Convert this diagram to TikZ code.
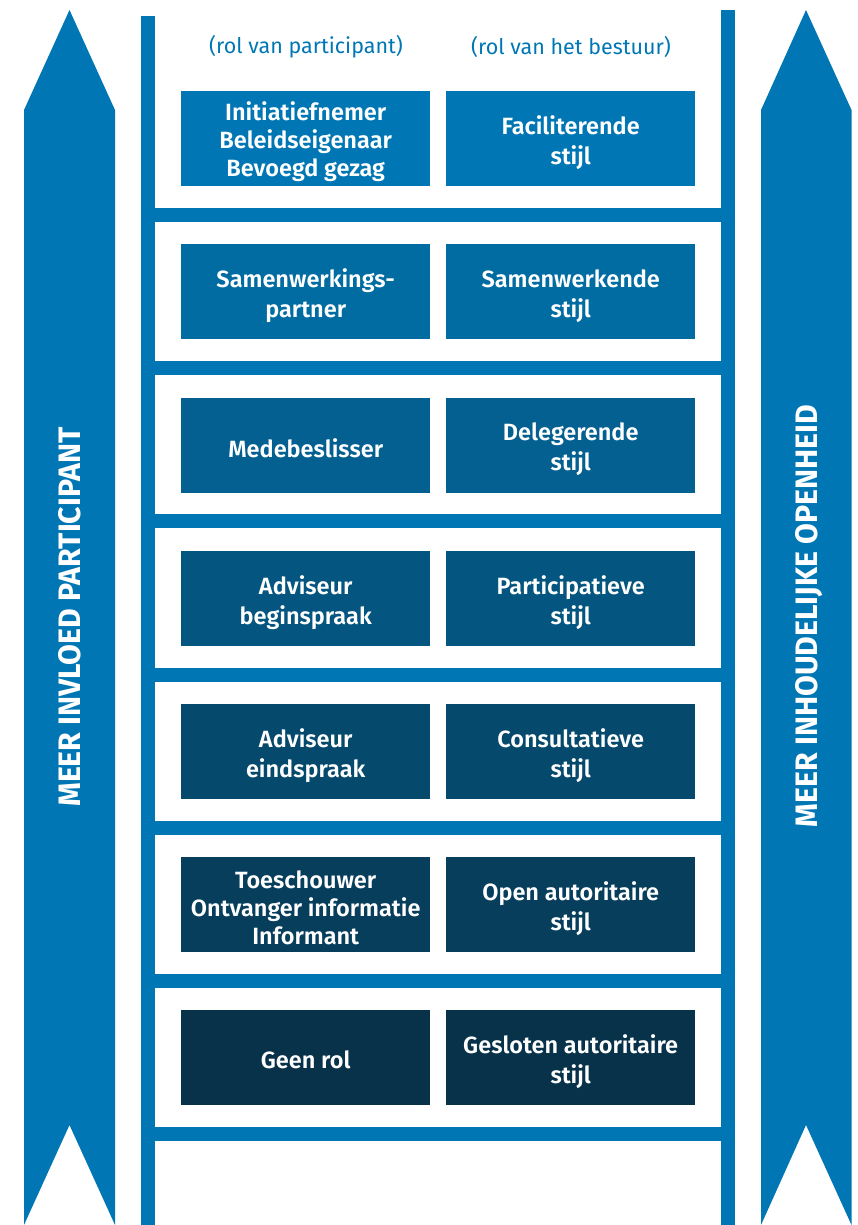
\documentclass[tikz,border=0pt]{standalone}
\usepackage{fontspec}
\setmainfont{Fira Sans}
\newfontfamily\vertfont[FakeStretch=0.975]{Fira Sans}
\newfontfamily\boxfont[BoldFont={Fira Sans SemiBold}]{Fira Sans}
\definecolor{mainblue}{RGB}{0,119,180}
\definecolor{rowA}{RGB}{0,119,180}
\definecolor{rowB}{RGB}{1,108,162}
\definecolor{rowC}{RGB}{3,96,145}
\definecolor{rowD}{RGB}{4,85,127}
\definecolor{rowE}{RGB}{5,73,109}
\definecolor{rowF}{RGB}{7,62,92}
\definecolor{rowG}{RGB}{8,50,74}
\tikzset{
  rolebox/.style={anchor=north west, inner sep=0pt, minimum width=249pt, minimum height=95pt, draw=none},
  boxtext/.style={inner sep=0pt, text=white, align=center, font=\boxfont\bfseries\fontsize{23.5}{30}\selectfont},
  tighttext/.style={font=\boxfont\bfseries\fontsize{23.5}{28}\selectfont},
  railbar/.style={fill=mainblue, draw=none},
  bigarrow/.style={fill=mainblue, draw=none},
  arrowlabel/.style={rotate=90, text=white, font=\vertfont\bfseries\fontsize{31}{31}\selectfont},
  headlabel/.style={text=mainblue, font=\fontsize{21.5}{24}\selectfont}
}
\begin{document}
\begin{tikzpicture}[x=1pt,y=-1pt]
\useasboundingbox (0,0) rectangle (857,1225);
% big arrows
\fill[bigarrow] (24,1225) -- (24,110) -- (69.5,10) -- (115,110) -- (115,1225) -- (69.5,1125) -- cycle;
\fill[bigarrow] (761,1225) -- (761,110) -- (806,10) -- (851.5,110) -- (851.5,1225) -- (806,1125) -- cycle;
\node[arrowlabel] (lefttext) at (69.5,617) {MEER INVLOED PARTICIPANT};
\node[arrowlabel] (righttext) at (809,616) {MEER INHOUDELIJKE OPENHEID};
% rails
\fill[railbar] (141,16) rectangle (155,1225);
\fill[railbar] (721,10) rectangle (735,1225);
% rungs
\foreach \k in {0,...,6} {
  \fill[railbar] (141,{208+\k*153.17}) rectangle (735,{222+\k*153.17});
}
% headers
\node[headlabel] (h1) at (306,47) {(rol van participant)};
\node[headlabel] (h2) at (571,47) {(rol van het bestuur)};
% boxes
\node[rolebox, fill=rowA] (l1) at (181,91) {};
\node[rolebox, fill=rowA] (r1) at (446,91) {};
\node[rolebox, fill=rowB] (l2) at (181,244.17) {};
\node[rolebox, fill=rowB] (r2) at (446,244.17) {};
\node[rolebox, fill=rowC] (l3) at (181,397.34) {};
\node[rolebox, fill=rowC] (r3) at (446,397.34) {};
\node[rolebox, fill=rowD] (l4) at (181,550.51) {};
\node[rolebox, fill=rowD] (r4) at (446,550.51) {};
\node[rolebox, fill=rowE] (l5) at (181,703.68) {};
\node[rolebox, fill=rowE] (r5) at (446,703.68) {};
\node[rolebox, fill=rowF] (l6) at (181,856.85) {};
\node[rolebox, fill=rowF] (r6) at (446,856.85) {};
\node[rolebox, fill=rowG] (l7) at (181,1010.02) {};
\node[rolebox, fill=rowG] (r7) at (446,1010.02) {};
% box texts
\node[boxtext, tighttext] (l1t) at ([yshift=-3pt]l1.center) {Initiatiefnemer\\Beleidseigenaar\\Bevoegd gezag};
\node[boxtext] (r1t) at ([yshift=-4pt]r1.center) {Faciliterende\\stijl};
\node[boxtext] (l2t) at ([yshift=-4pt]l2.center) {Samenwerkings-\\partner};
\node[boxtext] (r2t) at ([yshift=-4pt]r2.center) {Samenwerkende\\stijl};
\node[boxtext] (l3t) at ([yshift=-3pt]l3.center) {Medebeslisser};
\node[boxtext] (r3t) at ([yshift=-4pt]r3.center) {Delegerende\\stijl};
\node[boxtext] (l4t) at ([yshift=-4pt]l4.center) {Adviseur\\beginspraak};
\node[boxtext] (r4t) at ([yshift=-4pt]r4.center) {Participatieve\\stijl};
\node[boxtext] (l5t) at ([yshift=-4pt]l5.center) {Adviseur\\eindspraak};
\node[boxtext] (r5t) at ([yshift=-4pt]r5.center) {Consultatieve\\stijl};
\node[boxtext, tighttext] (l6t) at ([yshift=-3pt]l6.center) {Toeschouwer\\Ontvanger informatie\\Informant};
\node[boxtext] (r6t) at ([yshift=-4pt]r6.center) {Open autoritaire\\stijl};
\node[boxtext] (l7t) at ([yshift=-2pt]l7.center) {Geen rol};
\node[boxtext] (r7t) at ([yshift=-4pt]r7.center) {Gesloten autoritaire\\stijl};
\end{tikzpicture}
\end{document}
